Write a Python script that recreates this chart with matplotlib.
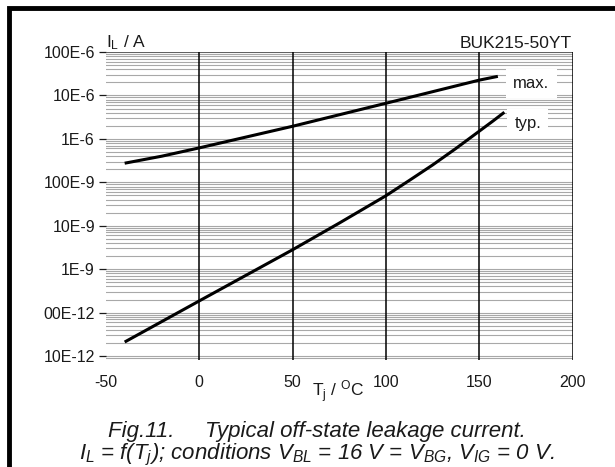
import matplotlib
matplotlib.use('Agg')
import matplotlib.pyplot as plt
from matplotlib.patches import Rectangle
from matplotlib.ticker import LogLocator, NullFormatter

plt.rcParams['font.family'] = 'Liberation Sans'
plt.rcParams['mathtext.fontset'] = 'custom'
plt.rcParams['mathtext.rm'] = 'Liberation Sans'
plt.rcParams['mathtext.it'] = 'Liberation Sans:italic'
plt.rcParams['axes.unicode_minus'] = False

# leakage current vs junction temperature
temp_max = [-40, -20, 0, 50, 100, 150, 160]
i_max = [2.75e-7, 4.0e-7, 6.2e-7, 1.95e-6, 6.6e-6, 2.25e-5, 2.75e-5]

temp_typ = [-40, 0, 50, 75, 100, 112.5, 125, 137.5, 150, 157.5, 163.5]
i_typ = [2.1e-11, 1.86e-10, 2.8e-9, 1.15e-8, 4.9e-8, 1.1e-7, 2.5e-7, 6.0e-7, 1.5e-6, 2.6e-6, 4.1e-6]

y_ticks = [1e-4, 1e-5, 1e-6, 1e-7, 1e-8, 1e-9, 1e-10, 1e-11]
y_labels = ['100E-6', '10E-6', '1E-6', '100E-9', '10E-9', '1E-9', '00E-12', '10E-12']
x_ticks = [-50, 0, 50, 100, 150, 200]

txt = '#1a1a1a'

fig = plt.figure(figsize=(6.15, 4.67), dpi=100)
ax = fig.add_axes([106 / 615, 1 - 359.5 / 467, (572.5 - 106) / 615, (359.5 - 52) / 467])

ax.set_yscale('log')
ax.set_xlim(-50, 200)
ax.set_ylim(10 ** -11.08, 1e-4)

# grey horizontal grid
ax.yaxis.set_minor_locator(LogLocator(base=10, subs=range(2, 10)))
ax.yaxis.set_minor_formatter(NullFormatter())
ax.grid(True, which='both', axis='y', color='#a8a8a8', lw=0.8)
ax.tick_params(axis='y', which='minor', length=0)
ax.axhline(1e-4, color='#555555', lw=1.2)

# black vertical lines
for t in [0, 50, 100, 150, 200]:
    ax.axvline(t, color='black', lw=1.1)

for s in ax.spines.values():
    s.set_visible(False)

ax.set_yticks(y_ticks)
ax.set_yticklabels(y_labels)
ax.set_xticks(x_ticks)
ax.tick_params(axis='y', which='major', length=5, width=0.9, pad=3, labelsize=11.5, colors=txt)
ax.tick_params(axis='x', length=0, pad=11, labelsize=11.5, colors=txt)

ax.plot(temp_max, i_max, color='black', lw=2.2, solid_capstyle='butt')
ax.plot(temp_typ, i_typ, color='black', lw=2.2, solid_capstyle='butt')

box = dict(facecolor='white', edgecolor='none', pad=5)
ax.text(178, 1.93e-5, 'max.', fontsize=12, color=txt, ha='center', va='center', bbox=box)
ax.text(176, 2.3e-6, 'typ.', fontsize=12, color=txt, ha='center', va='center', bbox=box)

fig.text(106 / 615, 1 - 43 / 467, r'I$_\mathregular{L}$ / A', fontsize=12.5, color=txt, va='center', ha='left')
fig.text(572 / 615, 1 - 43 / 467, 'BUK215-50YT', fontsize=12.5, color=txt, va='center', ha='right')
fig.text(338 / 615, 1 - 392 / 467, r'T$_\mathregular{j}$ / $^\mathregular{O}$C', fontsize=12.5, color=txt,
         va='center', ha='center')

fig.text(317 / 615, 1 - 431 / 467, 'Fig.11.     Typical off-state leakage current.', fontsize=16,
         style='italic', color=txt, ha='center', va='center')
fig.text(317 / 615, 1 - 455 / 467,
         r'$I_L$ = f($T_j$); conditions $V_{BL}$ = 16 V = $V_{BG}$, $V_{IG}$ = 0 V.',
         fontsize=16, style='italic', color=txt, ha='center', va='center')

# outer frame of the figure
fig.patches.append(Rectangle((8.5 / 615, -0.1), 1.2, 1.1 - 8.5 / 467, transform=fig.transFigure,
                             fill=False, edgecolor='black', lw=3.5))

fig.savefig('out.png', dpi=100)
